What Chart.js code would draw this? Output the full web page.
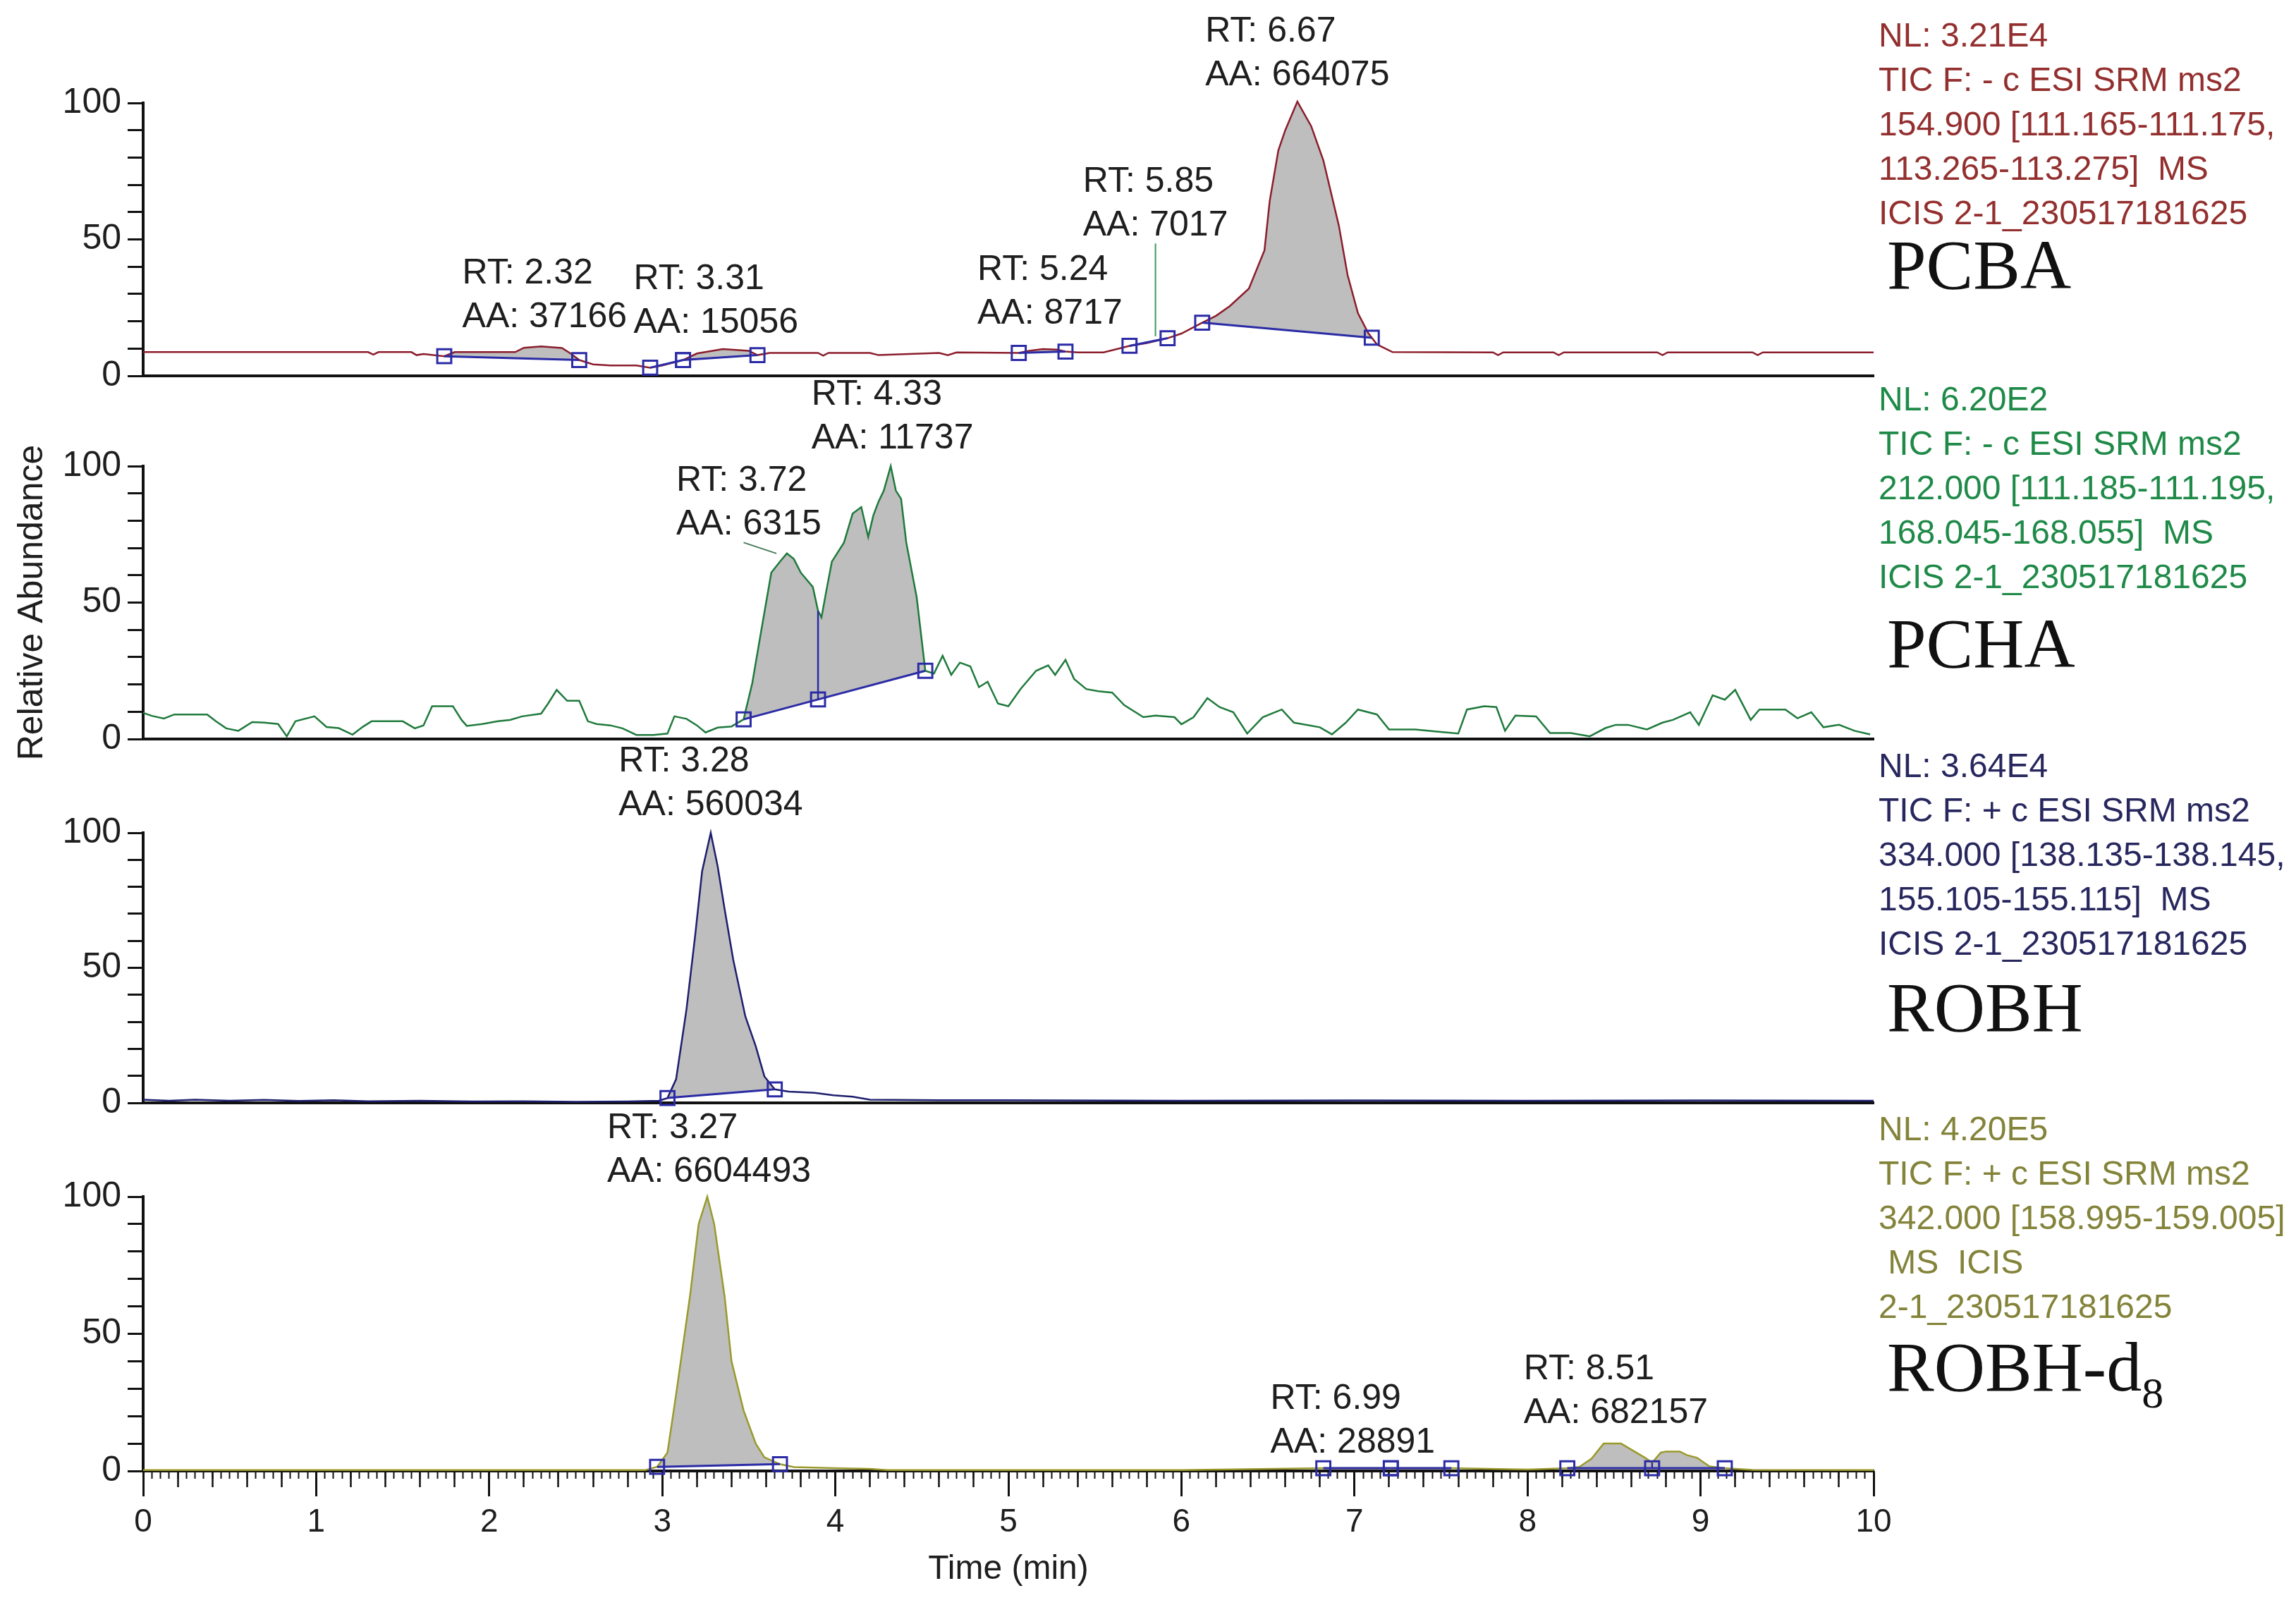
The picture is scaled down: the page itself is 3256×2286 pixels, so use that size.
<!DOCTYPE html>
<html lang="en">
<head>
<meta charset="UTF-8">
<title>SRM chromatograms</title>
<script src="https://cdn.jsdelivr.net/npm/chart.js"></script>
<style>
  body { margin: 0; background: #fff; width: 3256px; height: 2286px; position: relative; overflow: hidden;
         font-family: 'Liberation Sans', Arial, sans-serif; }
  canvas { position: absolute; left: 0; }
  .info { position: absolute; left: 2664px; font-size: 48px; line-height: 63px; white-space: pre; }
  .name { position: absolute; left: 2676px; font-family: 'Liberation Serif', 'Times New Roman', serif;
          font-size: 100px; line-height: 100px; color: #111; white-space: nowrap; }
  .name span { font-size: 62px; position: relative; top: 24px; }
</style>
</head>
<body>

<canvas id="pcba" width="3256" height="550" style="top:0px"></canvas>
<canvas id="pcha" width="3256" height="611" style="top:511px"></canvas>
<canvas id="robh" width="3256" height="550" style="top:1031px"></canvas>
<canvas id="robhd8" width="3256" height="739" style="top:1547px"></canvas>

<div class="info" style="top:18px;color:#93302f">NL: 3.21E4
TIC F: - c ESI SRM ms2
154.900 [111.165-111.175,
113.265-113.275]  MS
ICIS 2-1_230517181625</div>
<div class="name" style="top:326px">PCBA</div>

<div class="info" style="top:534px;color:#1f8a48">NL: 6.20E2
TIC F: - c ESI SRM ms2
212.000 [111.185-111.195,
168.045-168.055]  MS
ICIS 2-1_230517181625</div>
<div class="name" style="top:863px">PCHA</div>

<div class="info" style="top:1054px;color:#27275e">NL: 3.64E4
TIC F: + c ESI SRM ms2
334.000 [138.135-138.145,
155.105-155.115]  MS
ICIS 2-1_230517181625</div>
<div class="name" style="top:1379px">ROBH</div>

<div class="info" style="top:1569px;color:#83833a">NL: 4.20E5
TIC F: + c ESI SRM ms2
342.000 [158.995-159.005]
 MS  ICIS
2-1_230517181625</div>
<div class="name" style="top:1889px">ROBH-d<span>8</span></div>

<script>
// time axis labels and abundance labels
const timeLabels = ['0', '1', '2', '3', '4', '5', '6', '7', '8', '9', '10'];
const abundanceLabels = [0, 50, 100];

// PCBA trace
const pcbaTime = [0, 1.30, 1.33, 1.36, 1.55, 1.58, 1.62, 1.74, 1.80, 2.15, 2.20, 2.30, 2.42, 2.47, 2.52, 2.60, 2.70, 2.85, 2.93, 3.00,
  3.12, 3.20, 3.35, 3.50, 3.55, 3.62, 3.90, 3.93, 3.96, 4.20, 4.25, 4.60, 4.65, 4.70, 5.06, 5.12, 5.20, 5.28, 5.33, 5.40,
  5.55, 5.70, 5.80, 5.92, 6.00, 6.12, 6.20, 6.28, 6.39, 6.48, 6.51, 6.56, 6.60, 6.67, 6.75, 6.82, 6.91, 6.96, 7.02, 7.08,
  7.13, 7.22, 7.80, 7.83, 7.86, 8.15, 8.18, 8.21, 8.75, 8.78, 8.81, 9.30, 9.33, 9.36, 10];
const pcbaAbund = [8.7, 8.7, 7.8, 8.7, 8.7, 7.6, 8.0, 7.2, 8.7, 8.7, 10.3, 10.8, 10.2, 8.2, 5.8, 4.2, 3.8, 3.8, 3.0, 3.8,
  5.8, 8.2, 9.8, 9.2, 7.6, 8.4, 8.4, 7.4, 8.4, 8.4, 7.6, 8.4, 7.6, 8.6, 8.4, 9.2, 9.8, 9.6, 8.9, 8.6,
  8.6, 11.0, 12.0, 13.8, 15.5, 19.5, 22.0, 25.6, 32, 46, 64, 82.6, 90, 100.5, 91.5, 79, 55, 37, 23, 15.6,
  11.5, 8.7, 8.6, 7.6, 8.6, 8.6, 7.6, 8.6, 8.6, 7.6, 8.6, 8.6, 7.6, 8.6, 8.6];
const pcbaPeakStart = [1.74, 2.93, 3.12, 5.06, 5.70, 6.12];
const pcbaPeakEnd = [2.52, 3.12, 3.55, 5.33, 5.92, 7.10];
const pcbaRT = [2.32, 3.31, 5.24, 5.85, 6.67];
const pcbaAA = ['37166', '15056', '8717', '7017', '664075'];

// PCHA trace
const pchaTime = [0, 0.05, 0.12, 0.18, 0.26, 0.37, 0.42, 0.48, 0.55, 0.63, 0.70, 0.78, 0.83, 0.88, 0.99, 1.06, 1.13, 1.21, 1.27, 1.32,
  1.50, 1.57, 1.62, 1.67, 1.79, 1.84, 1.87, 1.96, 2.05, 2.12, 2.19, 2.30, 2.34, 2.39, 2.45, 2.52, 2.57, 2.62, 2.70, 2.77,
  2.85, 2.95, 3.03, 3.07, 3.14, 3.20, 3.25, 3.32, 3.40, 3.47, 3.52, 3.57, 3.63, 3.68, 3.72, 3.76, 3.80, 3.87, 3.90, 3.92,
  3.95, 3.98, 4.05, 4.10, 4.15, 4.19, 4.22, 4.25, 4.28, 4.32, 4.35, 4.38, 4.41, 4.47, 4.52, 4.57, 4.62, 4.67, 4.72, 4.78,
  4.83, 4.88, 4.94, 5.00, 5.07, 5.16, 5.23, 5.27, 5.33, 5.38, 5.45, 5.52, 5.60, 5.67, 5.78, 5.85, 5.96, 6.00, 6.07, 6.15,
  6.22, 6.30, 6.38, 6.47, 6.58, 6.65, 6.80, 6.87, 6.95, 7.02, 7.13, 7.20, 7.35, 7.50, 7.60, 7.65, 7.75, 7.82, 7.87, 7.93,
  8.05, 8.13, 8.25, 8.36, 8.45, 8.51, 8.58, 8.69, 8.78, 8.84, 8.94, 8.99, 9.07, 9.14, 9.20, 9.29, 9.34, 9.49, 9.56, 9.64,
  9.71, 9.80, 9.89, 9.98];
const pchaAbund = [9.6, 8.5, 7.5, 9.0, 9.0, 9.0, 6.5, 3.9, 3.0, 6.2, 6.0, 5.5, 1.0, 6.5, 8.3, 4.4, 4.0, 1.6, 4.5, 6.5,
  6.5, 3.9, 5.0, 12.0, 12.0, 7.0, 4.8, 5.5, 6.5, 7.0, 8.3, 9.3, 13.0, 18.0, 14.0, 14.0, 6.5, 5.5, 5.0, 3.9,
  1.5, 1.5, 2.0, 8.3, 7.4, 5.0, 2.4, 4.2, 4.6, 7.2, 20.5, 39, 61, 65, 68, 66, 61, 55.7, 47, 44.6,
  55, 65, 72, 82.6, 85, 74, 82, 87, 91, 100, 91, 88, 72, 52, 25, 24, 30.5, 23.5, 28, 26.6,
  19, 21, 13, 12, 18.3, 25, 27, 23.5, 29, 22, 18.3, 17.5, 17, 12.4, 8, 8.6, 8, 5.4, 8, 15,
  11.7, 9.8, 2, 8, 10.8, 6, 4.3, 1.7, 6, 10.8, 9, 3.5, 3.5, 2.6, 2, 10.8, 12, 11.7, 3, 8.6,
  8.3, 2.2, 2.2, 1, 4, 5.2, 5.2, 3.5, 6, 7, 9.8, 5.2, 16, 14.4, 18, 7, 10.8, 10.8, 7.6, 9.8,
  4.3, 5.2, 3, 1.7];
const pchaPeakStart = [3.47];
const pchaPeakEnd = [4.52];
const pchaSplits = [3.90];
const pchaRT = [3.72, 4.33];
const pchaAA = ['6315', '11737'];

// ROBH trace
const robhTime = [0, 0.15, 0.3, 0.5, 0.7, 0.9, 1.1, 1.3, 1.6, 1.9, 2.2, 2.5, 2.8, 2.98, 3.03, 3.08, 3.14, 3.19, 3.23, 3.28,
  3.32, 3.36, 3.41, 3.48, 3.54, 3.59, 3.65, 3.73, 3.88, 3.99, 4.10, 4.20, 4.6, 5.0, 6.0, 7.0, 8.0, 9.0, 10];
const robhAbund = [1.2, 0.8, 1.2, 0.8, 1.1, 0.7, 1.0, 0.6, 0.8, 0.5, 0.6, 0.4, 0.5, 0.8, 1.8, 8.8, 34.7, 62, 85.7, 100,
  87.6, 71.8, 53, 32, 21, 9.8, 5.0, 4.2, 3.7, 2.8, 2.3, 1.2, 1.0, 1.0, 0.8, 0.9, 0.8, 0.9, 0.8];
const robhPeakStart = [3.03];
const robhPeakEnd = [3.65];
const robhRT = [3.28];
const robhAA = ['560034'];

// ROBH-d8 trace
const robhd8Time = [0, 1.0, 2.0, 2.9, 2.97, 3.03, 3.08, 3.16, 3.21, 3.26, 3.30, 3.36, 3.40, 3.47, 3.54, 3.59, 3.68, 3.76, 4.0, 4.2,
  4.3, 5.0, 6.0, 6.82, 7.21, 7.56, 8.0, 8.23, 8.30, 8.37, 8.44, 8.54, 8.58, 8.68, 8.72, 8.77, 8.80, 8.88, 8.92, 8.98,
  9.05, 9.14, 9.3, 10];
const robhd8Abund = [0.3, 0.3, 0.3, 0.3, 1.5, 6.7, 28, 63.7, 90, 100, 90, 63.7, 40, 22, 10, 5, 2.5, 1.4, 1.0, 0.8,
  0.3, 0.3, 0.3, 1.0, 1.0, 1.0, 0.5, 1.0, 1.5, 4.5, 10, 10, 8.5, 4.8, 3.0, 6.7, 7.1, 7.1, 5.8, 4.8,
  1.7, 1.0, 0.4, 0.3];
const robhd8PeakStart = [2.97, 6.82, 7.21, 8.23];
const robhd8PeakEnd = [3.68, 7.21, 7.56, 9.14];
const robhd8Splits = [8.72];
const robhd8RT = [3.27, 6.99, 8.51];
const robhd8AA = ['6604493', '28891', '682157'];

const BLUE = '#2b2ba6';
const FILL = '#bebebe';
const INK = '#1e1e1e';

Chart.defaults.font.family = "'Liberation Sans', Arial, sans-serif";
Chart.defaults.color = INK;

const panels = [
  { canvas: 'pcba', time: pcbaTime, abund: pcbaAbund, start: pcbaPeakStart, end: pcbaPeakEnd, splits: [],
    rt: pcbaRT, aa: pcbaAA, labelY: [21.3, 19.2, 22.8, 55, 110], labelX: [],
    leaders: [{ t0: 5.85, y0: 14.5, t1: 5.85, y1: 48.5, color: '#3c9a5c' }],
    color: '#8b1d2c', padTop: 146, xBox: 14 },
  { canvas: 'pcha', time: pchaTime, abund: pchaAbund, start: pchaPeakStart, end: pchaPeakEnd, splits: pchaSplits,
    rt: pchaRT, aa: pchaAA, labelY: [78.6, 110], labelX: [3.50],
    leaders: [{ t0: 3.47, y0: 72, t1: 3.66, y1: 68, color: '#4a7a5a' }],
    color: '#1f7a3c', padTop: 150, xBox: 74, yTitle: 'Relative Abundance' },
  { canvas: 'robh', time: robhTime, abund: robhAbund, start: robhPeakStart, end: robhPeakEnd, splits: [],
    rt: robhRT, aa: robhAA, labelY: [110], labelX: [], leaders: [],
    color: '#1e1e6e', padTop: 150, xBox: 14 },
  { canvas: 'robhd8', time: robhd8Time, abund: robhd8Abund, start: robhd8PeakStart, end: robhd8PeakEnd, splits: robhd8Splits,
    rt: robhd8RT, aa: robhd8AA, labelY: [109, 10.3, 21], labelX: [], leaders: [],
    color: '#9a9a2c', padTop: 150, xBox: 200, timeAxis: true }
];

function traceAt(ts, ys, t) {
  for (let i = 1; i < ts.length; i++) {
    if (t <= ts[i]) {
      const f = (t - ts[i - 1]) / (ts[i] - ts[i - 1]);
      return ys[i - 1] + f * (ys[i] - ys[i - 1]);
    }
  }
  return ys[ys.length - 1];
}

function zeroPad(s) {
  s.paddingLeft = 0; s.paddingRight = 0; s.paddingTop = 0; s.paddingBottom = 0;
}

// RT / AA labels above the peaks
const peakLabels = {
  id: 'peakLabels',
  afterDatasetsDraw(chart, args, opts) {
    const { ctx } = chart;
    const x = chart.scales.x, y = chart.scales.y;
    ctx.save();
    opts.leaders.forEach(l => {
      ctx.strokeStyle = l.color;
      ctx.lineWidth = 2;
      ctx.beginPath();
      ctx.moveTo(x.getPixelForValue(l.t0), y.getPixelForValue(l.y0));
      ctx.lineTo(x.getPixelForValue(l.t1), y.getPixelForValue(l.y1));
      ctx.stroke();
    });
    ctx.font = "50px 'Liberation Sans', Arial, sans-serif";
    ctx.fillStyle = INK;
    ctx.textAlign = 'left';
    ctx.textBaseline = 'middle';
    opts.rt.forEach((rt, i) => {
      const l1 = 'RT: ' + rt.toFixed(2);
      const l2 = 'AA: ' + opts.aa[i];
      const w = Math.max(ctx.measureText(l1).width, ctx.measureText(l2).width);
      const cx = x.getPixelForValue(opts.labelX[i] != null ? opts.labelX[i] : rt);
      const yAA = y.getPixelForValue(opts.labelY[i]);
      ctx.fillText(l1, cx - w / 2, yAA - 62);
      ctx.fillText(l2, cx - w / 2, yAA);
    });
    ctx.restore();
  }
};

panels.forEach(p => {
  const pts = p.time.map((t, i) => ({ x: t, y: p.abund[i] }));
  const at = t => traceAt(p.time, p.abund, t);
  const datasets = [];

  // integration baselines with their square markers
  p.start.forEach((t0, k) => {
    const t1 = p.end[k];
    const y0 = at(t0), y1 = at(t1);
    const base = [{ x: t0, y: y0 }];
    p.splits.filter(s => s > t0 && s < t1).forEach(s => {
      base.push({ x: s, y: y0 + (y1 - y0) * (s - t0) / (t1 - t0) });
    });
    base.push({ x: t1, y: y1 });
    datasets.push({
      data: base, borderColor: BLUE, borderWidth: 3, fill: false,
      pointStyle: 'rect', pointRadius: 14, pointBorderWidth: 3,
      pointBorderColor: BLUE, pointBackgroundColor: 'rgba(0,0,0,0)',
      order: 1, clip: false
    });
  });

  // grey peak areas between trace and baseline
  p.start.forEach((t0, k) => {
    const t1 = p.end[k];
    const area = [{ x: t0, y: at(t0) }].concat(pts.filter(q => q.x > t0 && q.x < t1), [{ x: t1, y: at(t1) }]);
    datasets.push({
      data: area, borderWidth: 0, pointRadius: 0, backgroundColor: FILL,
      fill: { target: k, above: FILL, below: FILL }, order: 4
    });
  });

  // chromatogram trace
  datasets.push({
    data: pts, borderColor: p.color, borderWidth: 2.5, pointRadius: 0,
    fill: false, order: 2, clip: false
  });

  // drop lines at peak splits
  p.splits.forEach(s => {
    const k = p.start.findIndex((t0, j) => s > t0 && s < p.end[j]);
    const t0 = p.start[k], t1 = p.end[k];
    const yb = at(t0) + (at(t1) - at(t0)) * (s - t0) / (t1 - t0);
    datasets.push({
      data: [{ x: s, y: yb }, { x: s, y: at(s) }], borderColor: BLUE, borderWidth: 2.5,
      pointRadius: 0, fill: false, order: 1, clip: false
    });
  });

  const scales = {
    y: {
      type: 'linear', position: 'left', min: 0, max: 100,
      ticks: {
        stepSize: 10, autoSkip: false, padding: 9, font: { size: 50 }, color: INK,
        callback: v => abundanceLabels.includes(v) ? String(v) : ''
      },
      grid: { display: true, drawOnChartArea: false, drawTicks: true, tickLength: 22, tickWidth: 3, tickColor: '#111' },
      border: { display: true, color: '#111', width: 4 },
      title: { display: !!p.yTitle, text: p.yTitle || '', font: { size: 50 }, color: INK, padding: { top: 16, bottom: 0 } },
      afterFit: s => { s.width = 203; zeroPad(s); }
    },
    x: {
      type: 'linear', position: 'bottom', min: 0, max: 10,
      ticks: {
        display: !!p.timeAxis, stepSize: 1, autoSkip: false, maxRotation: 0, padding: 10,
        font: { size: 46 }, color: INK,
        callback: v => timeLabels[v] !== undefined ? timeLabels[v] : ''
      },
      grid: { display: true, drawOnChartArea: false, drawTicks: !!p.timeAxis, tickLength: 36, tickWidth: 3, tickColor: '#111' },
      border: { display: true, color: '#111', width: 4 },
      title: { display: !!p.timeAxis, text: 'Time (min)', font: { size: 48 }, color: INK, padding: { top: 0, bottom: 31 } },
      afterFit: s => { s.height = p.xBox; zeroPad(s); }
    }
  };

  if (p.timeAxis) {
    scales.xMid = {
      type: 'linear', axis: 'x', position: { y: 0 }, min: 0, max: 10,
      ticks: { display: false, stepSize: 0.2, autoSkip: false },
      grid: { display: true, drawOnChartArea: false, drawTicks: true, tickLength: 23, tickWidth: 2.5, tickColor: '#111' },
      border: { display: false },
      afterFit: zeroPad
    };
    scales.xMinor = {
      type: 'linear', axis: 'x', position: { y: 0 }, min: 0, max: 10,
      ticks: { display: false, stepSize: 0.05, autoSkip: false },
      grid: { display: true, drawOnChartArea: false, drawTicks: true, tickLength: 11, tickWidth: 2, tickColor: '#111' },
      border: { display: false },
      afterFit: zeroPad
    };
  }

  new Chart(document.getElementById(p.canvas), {
    type: 'line',
    data: { datasets },
    options: {
      responsive: false,
      animation: false,
      events: [],
      layout: { padding: { top: p.padTop, right: 599, bottom: 0, left: 0 } },
      plugins: {
        legend: { display: false },
        tooltip: { enabled: false },
        peakLabels: { rt: p.rt, aa: p.aa, labelY: p.labelY, labelX: p.labelX, leaders: p.leaders }
      },
      scales
    },
    plugins: [peakLabels]
  });
});
</script>
</body>
</html>
